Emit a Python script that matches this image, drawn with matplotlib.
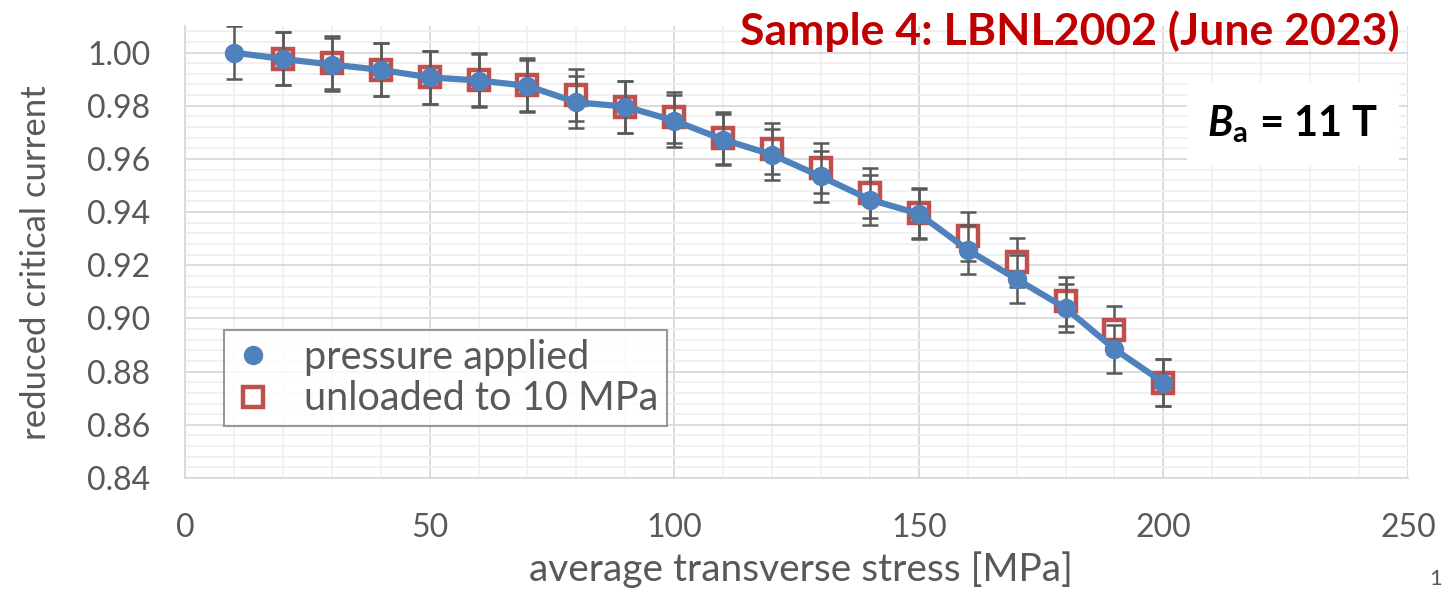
import numpy as np
import matplotlib
matplotlib.use("Agg")
import matplotlib.pyplot as plt
from matplotlib.ticker import MultipleLocator, FormatStrFormatter

plt.rcParams["font.family"] = ["Lato", "DejaVu Sans"]
plt.rcParams["mathtext.fontset"] = "custom"
plt.rcParams["mathtext.bfit"] = "Lato:bold:italic"
plt.rcParams["mathtext.bf"] = "Lato:bold"

# average transverse stress [MPa]
stress_applied = [10, 20, 30, 40, 50, 60, 70, 80, 90, 100,
                  110, 120, 130, 140, 150, 160, 170, 180, 190, 200]
ic_applied = [1.000, 0.9976, 0.9955, 0.9935, 0.9907, 0.9895, 0.9875, 0.9813, 0.9797, 0.9744,
              0.9673, 0.9616, 0.9534, 0.9447, 0.9394, 0.9258, 0.9148, 0.9039, 0.8885, 0.8759]

stress_unloaded = [20, 30, 40, 50, 60, 70, 80, 90, 100,
                   110, 120, 130, 140, 150, 160, 170, 180, 190, 200]
ic_unloaded = [0.9976, 0.9962, 0.9935, 0.9907, 0.9898, 0.9879, 0.9841, 0.9797, 0.9756,
               0.9679, 0.9638, 0.9566, 0.9472, 0.9397, 0.9309, 0.9211, 0.9064, 0.8957, 0.8759]

rel_err = 0.01  # 1 % error bars

BLUE = "#4F81BD"
RED = "#C0504D"
GRAY = "#595959"

W, H = 1447, 589
fig = plt.figure(figsize=(W / 100, H / 100), dpi=100)
ax = fig.add_axes([185 / W, 1 - 478 / H, (1408 - 185) / W, (478 - 26) / H])

ax.set_xlim(0, 250)
ax.set_ylim(0.84, 1.010)
ax.xaxis.set_major_locator(MultipleLocator(50))
ax.xaxis.set_minor_locator(MultipleLocator(10))
ax.yaxis.set_major_locator(MultipleLocator(0.02))
ax.yaxis.set_minor_locator(MultipleLocator(0.004))
ax.yaxis.set_major_formatter(FormatStrFormatter("%.2f"))

ax.grid(True, which="major", color="#D9D9D9", linewidth=1.3, zorder=0)
ax.grid(True, which="minor", color="#F0F0F0", linewidth=1.3, zorder=0)
ax.set_axisbelow(True)
for side in ["top", "right"]:
    ax.spines[side].set_visible(False)
for side in ["left", "bottom"]:
    ax.spines[side].set_color("#D9D9D9")
    ax.spines[side].set_linewidth(1.3)

ax.tick_params(which="both", length=0)
ax.tick_params(axis="y", pad=25, labelsize=23, labelcolor=GRAY)
ax.tick_params(axis="x", pad=25, labelsize=23, labelcolor=GRAY)

y_un = np.array(ic_unloaded)
y_ap = np.array(ic_applied)

# unloaded series: open squares, no connecting line
ax.errorbar(stress_unloaded, y_un, yerr=rel_err * y_un, fmt="none",
            ecolor=GRAY, elinewidth=1.8, capsize=5.5, capthick=1.8, zorder=3)
ax.plot(stress_unloaded, y_un, linestyle="none", marker="s", markersize=14,
        markerfacecolor="white", markeredgecolor=RED, markeredgewidth=3.2, zorder=4,
        label="unloaded to 10 MPa")

# pressure applied: filled circles joined by a thick line
ax.errorbar(stress_applied, y_ap, yerr=rel_err * y_ap, fmt="none",
            ecolor=GRAY, elinewidth=1.8, capsize=5.5, capthick=1.8, zorder=5)
ax.plot(stress_applied, y_ap, color=BLUE, linewidth=4.5, marker="o", markersize=14,
        markeredgewidth=0, zorder=6, label="pressure applied")

h, l = ax.get_legend_handles_labels()
leg = ax.legend(h[::-1], l[::-1], loc="upper left", bbox_to_anchor=(39 / 1223, 1 - 304 / 452),
                fontsize=28.5, frameon=True, fancybox=False, borderpad=0.22,
                handlelength=1.0, handletextpad=0.8, labelspacing=0.12, borderaxespad=0)
leg.get_frame().set_edgecolor("#808080")
leg.get_frame().set_linewidth(1.5)
for t in leg.get_texts():
    t.set_color(GRAY)
for lh in leg.get_lines():
    lh.set_linestyle("none")

fig.text(801 / W, 1 - 570 / H, "average transverse stress [MPa]", ha="center", va="center",
         fontsize=28, color=GRAY)
fig.text(36 / W, 1 - 263 / H, "reduced critical current", ha="center", va="center",
         rotation=90, fontsize=25, color=GRAY)

fig.text(1400 / W, 1 - 31 / H, "Sample 4: LBNL2002 (June 2023)", ha="right", va="center",
         fontsize=32, fontweight="bold", color="#C00000")

fig.text(1293 / W, 1 - 124 / H, r"$\mathbfit{B}_{\mathbf{a}}$ = 11 T",
         ha="center", va="center", fontsize=30, fontweight="bold", color="black", zorder=8,
         bbox=dict(boxstyle="square,pad=0.5", facecolor="white", edgecolor="none"))

fig.text(1436 / W, 0, "1", ha="center", va="bottom", fontsize=16, color=GRAY)

fig.savefig("out.png", dpi=100)
